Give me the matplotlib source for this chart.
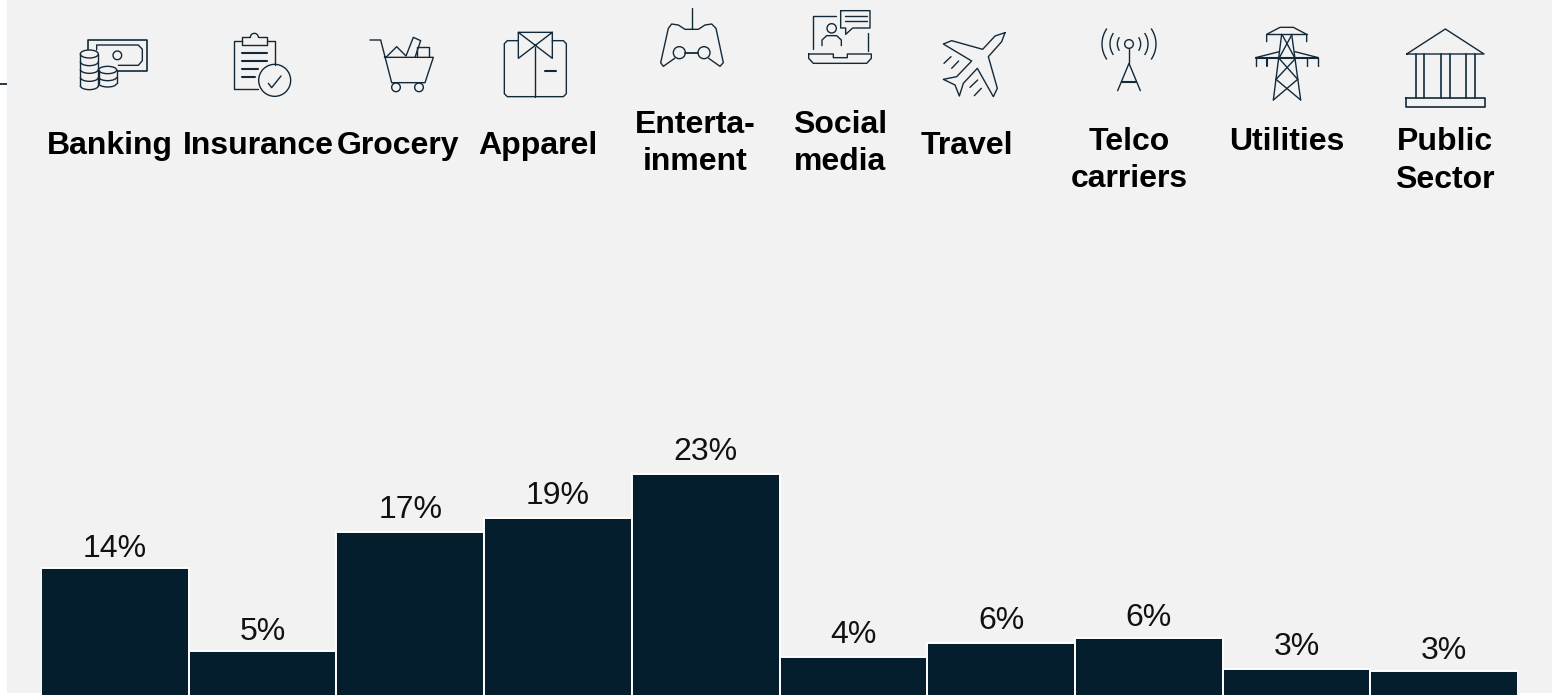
import numpy as np
import matplotlib
matplotlib.use('Agg')
import matplotlib.pyplot as plt
from matplotlib.patches import Circle, Ellipse, Rectangle, Arc

plt.rcParams['font.family'] = ['Liberation Sans', 'DejaVu Sans']

# data
categories = ['Banking', 'Insurance', 'Grocery', 'Apparel', 'Enterta-\ninment',
              'Social\nmedia', 'Travel', 'Telco\ncarriers', 'Utilities', 'Public\nSector']
shares = [13.6, 5.0, 17.4, 18.9, 23.4, 4.4, 5.8, 6.4, 3.1, 2.9]

# where the category headings sit, in pixels
heading_x = [110, 258, 398, 538, 695, 840, 967, 1129, 1287, 1445]
heading_y = [146, 146, 146, 146, 143.5, 143.5, 146, 160.5, 142, 161]
# gap between bar top and its label, in points
label_gap = [3.5, 3, 5, 4.5, 5, 5, 5, 3, 5, 3.5]

W, H = 1560, 695
NAVY = '#051e2e'
ICON = '#12293a'

fig = plt.figure(figsize=(W / 100, H / 100), dpi=100, facecolor='white')

# panel and icons live in a pixel-space axes
bg = fig.add_axes([0, 0, 1, 1])
bg.set_xlim(0, W)
bg.set_ylim(H, 0)
bg.axis('off')
bg.add_patch(Rectangle((7, 0), 1545, 693, fc='#f2f2f2', ec='none', zorder=0))
bg.plot([0, 7], [84, 84], color=ICON, lw=1.3, solid_capstyle='butt')

# bar axes: baseline falls a little below the bottom edge
PX_PER_PCT = 9.6
BASE = 699
left, right = 41, 1518
ax = fig.add_axes([left / W, (H - BASE) / H, (right - left) / W, BASE / H])
ax.patch.set_alpha(0)
ax.set_xlim(-0.5, len(shares) - 0.5)
ax.set_ylim(0, BASE / PX_PER_PCT)
ax.axis('off')
bars = ax.bar(range(len(shares)), shares, width=1.0, color=NAVY, edgecolor='white', linewidth=1.4)
for i, v in enumerate(shares):
    ax.annotate(f'{v:.0f}%', (i, v), xytext=(0, label_gap[i]), textcoords='offset points',
                ha='center', va='bottom', fontsize=23, color='#111111')

for x, y, name in zip(heading_x, heading_y, categories):
    bg.text(x, y, name, ha='center', va='center', fontsize=23, fontweight='bold',
            color='black', linespacing=1.32, zorder=5)


# icon helpers: coordinates are 3x pixels, shifted by ox
def line(pts, ox=0, lw=1.0, closed=False):
    pts = np.array(pts, dtype=float) / 3
    if closed:
        pts = np.vstack([pts, pts[0]])
    bg.plot(pts[:, 0] + ox, pts[:, 1], color=ICON, lw=lw, solid_joinstyle='round',
            solid_capstyle='round', zorder=4)


def circ(cx, cy, r, ox=0, lw=1.0):
    bg.add_patch(Circle((cx / 3 + ox, cy / 3), r / 3, fc='none', ec=ICON, lw=lw, zorder=4))


def coin_stack(cx, top, rx, ry, layers):
    # drum outline: closed top, straight sides, one lower rim per layer
    bg.add_patch(Rectangle(((cx - rx) / 3, top / 3), 2 * rx / 3, (layers[-1] - top) / 3,
                           fc='#f2f2f2', ec='none', zorder=3))
    bg.add_patch(Ellipse((cx / 3, top / 3), 2 * rx / 3, 2 * ry / 3, fc='#f2f2f2', ec=ICON, lw=1.0, zorder=4))
    line([(cx - rx, top), (cx - rx, layers[-1])])
    line([(cx + rx, top), (cx + rx, layers[-1])])
    for y in layers:
        bg.add_patch(Arc((cx / 3, y / 3), 2 * rx / 3, 2 * ry / 3, theta1=0, theta2=180, ec=ICON, lw=1.0, zorder=4))


# banking
line([(265, 150), (265, 120), (441, 120), (441, 213), (355, 213)], lw=1.2)
line([(290, 150), (290, 135), (415, 135), (427, 148), (427, 182), (415, 196), (355, 196)])
circ(352, 166, 13)
coin_stack(268, 162, 27, 12, [185, 208, 232, 257])
coin_stack(323, 210, 27, 11, [231, 250])

# insurance
line([(775, 268), (703, 268), (703, 122), (727, 122)])
line([(800, 122), (825, 122), (825, 195)])
bg.add_patch(Arc((763 / 3, 112 / 3), 24 / 3, 24 / 3, theta1=180, theta2=360, ec=ICON, lw=1.0, zorder=4))
line([(727, 112), (751, 112)])
line([(775, 112), (800, 112), (800, 135), (727, 135), (727, 112)])
line([(725, 158), (802, 158)], lw=1.5)
line([(725, 183), (802, 183)], lw=1.5)
line([(725, 207), (773, 207)], lw=1.5)
line([(725, 231), (765, 231)], lw=1.5)
circ(824, 241, 48)
line([(805, 250), (815, 263), (843, 228)])

# grocery
line([(1110, 120), (1142, 120), (1175, 248), (1275, 248), (1300, 172), (1153, 172)])
circ(1188, 262, 13)
circ(1257, 262, 13)
line([(1158, 172), (1190, 140), (1218, 168), (1240, 112), (1262, 122), (1245, 172)])
line([(1250, 172), (1250, 141), (1287, 141), (1287, 172)])

# apparel
ox = 500
line([(55, 122), (22, 122), (13, 131), (13, 281), (22, 290), (190, 290), (199, 281), (199, 131), (190, 122), (157, 122)], ox)
line([(55, 97), (157, 97), (157, 175), (55, 97), (55, 175), (157, 97)], ox)
line([(105, 140), (105, 290)], ox)
line([(136, 212), (167, 212)], ox, lw=1.5)

# entertainment
line([(575, 25), (575, 88)], ox)
line([(575, 88), (555, 88), (535, 75), (515, 72), (505, 85), (482, 188), (490, 199), (524, 175)], ox)
line([(575, 88), (595, 88), (615, 75), (635, 72), (648, 85), (670, 188), (660, 199), (626, 175)], ox)
circ(538, 158, 18, ox)
circ(612, 158, 18, ox)
line([(556, 158), (594, 158)], ox, lw=1.3)

# social media
line([(1007, 49), (938, 49), (938, 148)], ox)
line([(1104, 100), (1104, 152)], ox)
line([(1022, 32), (1110, 32), (1110, 84), (1058, 84), (1037, 103), (1037, 84), (1022, 84)], ox, closed=True)
line([(1035, 48), (1100, 48)], ox)
line([(1035, 63), (1100, 63)], ox)
circ(995, 85, 14, ox)
line([(966, 137), (966, 120), (980, 107), (1010, 107), (1024, 120), (1024, 137)], ox)
line([(926, 162), (1000, 162), (1000, 173), (1042, 173), (1042, 162), (1114, 162), (1114, 175),
      (1100, 190), (940, 190), (926, 175)], ox, closed=True)

# travel
line([(1515, 98), (1485, 108), (1448, 148), (1355, 122), (1330, 132), (1415, 183), (1370, 230),
      (1330, 238), (1365, 255), (1378, 288), (1390, 250), (1432, 205), (1480, 290), (1492, 265),
      (1465, 170), (1505, 125)], ox, closed=True)
line([(1332, 190), (1353, 170)], ox)
line([(1355, 205), (1376, 183)], ox)
line([(1410, 262), (1433, 240)], ox)
line([(1423, 287), (1444, 265)], ox)

# telco carriers
ox = 1040
circ(267, 132, 13, ox)
line([(267, 146), (267, 190)], ox)
line([(233, 272), (267, 190), (301, 272)], ox)
line([(247, 245), (288, 245)], ox, lw=1.5)
for r in [35, 57, 81]:
    d = r * 2 / 3
    c = (ox + 267 / 3, 132 / 3)
    bg.add_patch(Arc(c, d, d, theta1=145, theta2=215, ec=ICON, lw=1.0, zorder=4))
    bg.add_patch(Arc(c, d, d, theta1=-35, theta2=35, ec=ICON, lw=1.0, zorder=4))

# utilities
line([(680, 125), (680, 103), (720, 82), (760, 82), (800, 103), (800, 125)], ox)
line([(680, 103), (800, 103)], ox)
line([(647, 173), (718, 155)], ox)
line([(765, 155), (835, 173)], ox)
line([(647, 173), (835, 173)], ox, lw=1.5)
for x in [647, 800, 835]:
    line([(x, 173), (x, 197)], ox)
line([(681, 173), (681, 197)], ox, lw=1.5)
line([(725, 103), (700, 300)], ox)
line([(755, 103), (782, 300)], ox)
line([(727, 105), (765, 175)], ox)
line([(755, 105), (717, 175)], ox)
line([(717, 175), (773, 238)], ox)
line([(767, 175), (708, 238)], ox)
line([(708, 238), (782, 300)], ox)
line([(773, 238), (700, 300)], ox)

# public sector
line([(1100, 162), (1216, 87), (1332, 162)], ox, closed=True)
for x in [1128, 1153, 1203, 1229, 1279, 1304]:
    line([(x, 162), (x, 295)], ox, lw=1.2)
line([(1097, 295), (1335, 295), (1335, 322), (1097, 322)], ox, closed=True, lw=1.2)

fig.savefig('out.png', dpi=100)
